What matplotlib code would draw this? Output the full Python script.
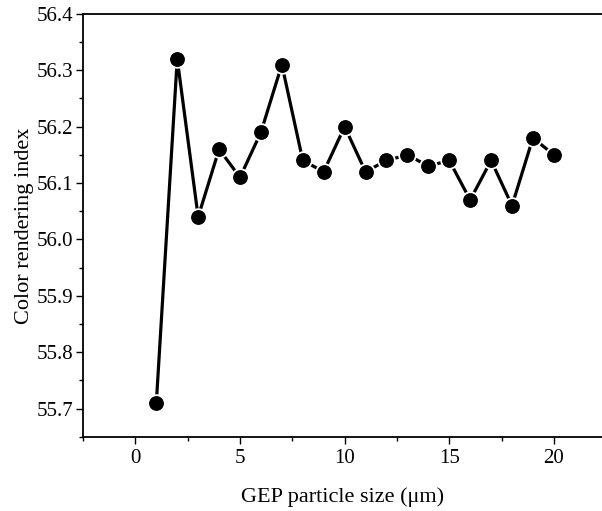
import numpy as np
import matplotlib
matplotlib.use('Agg')
import matplotlib.pyplot as plt
from matplotlib.ticker import MultipleLocator

matplotlib.rcParams['font.family'] = 'serif'
matplotlib.rcParams['font.serif'] = ['Liberation Serif']
matplotlib.rcParams['mathtext.fontset'] = 'custom'
matplotlib.rcParams['mathtext.rm'] = 'Liberation Serif'

size_um = [1, 2, 3, 4, 5, 6, 7, 8, 9, 10, 11, 12, 13, 14, 15, 16, 17, 18, 19, 20]
cri = [55.71, 56.32, 56.04, 56.16, 56.11, 56.19, 56.31, 56.14, 56.12, 56.20,
       56.12, 56.14, 56.15, 56.13, 56.14, 56.07, 56.14, 56.06, 56.18, 56.15]

fig = plt.figure(figsize=(6.02, 5.11), dpi=100)
ax = fig.add_axes([0.138, 0.145, 0.862, 0.828])

# white marker edge gives the small gap between line and dot
ax.plot(size_um, cri, 'k-', lw=2.3, marker='o', ms=12, mfc='k', mec='w', mew=1.3)

ax.set_xlim(-2.5, 22.3)
ax.set_ylim(55.65, 56.4)
ax.xaxis.set_major_locator(MultipleLocator(5))
ax.xaxis.set_minor_locator(MultipleLocator(2.5))
ax.yaxis.set_major_locator(MultipleLocator(0.1))
ax.yaxis.set_minor_locator(MultipleLocator(0.05))
ax.yaxis.set_major_formatter(matplotlib.ticker.FormatStrFormatter('%.1f'))

ax.spines['right'].set_visible(False)
for s in ('left', 'bottom', 'top'):
    ax.spines[s].set_linewidth(1.3)
ax.tick_params(which='major', direction='out', length=5, width=1, labelsize=15)
ax.tick_params(which='minor', direction='out', length=3, width=1)
ax.tick_params(axis='y', which='major', pad=2)
ax.tick_params(top=False, right=False)

ax.set_xlabel('GEP particle size (μm)', fontsize=16, labelpad=14)
ax.set_ylabel('Color rendering index', fontsize=16, labelpad=2)

plt.savefig('out.png', dpi=100)
